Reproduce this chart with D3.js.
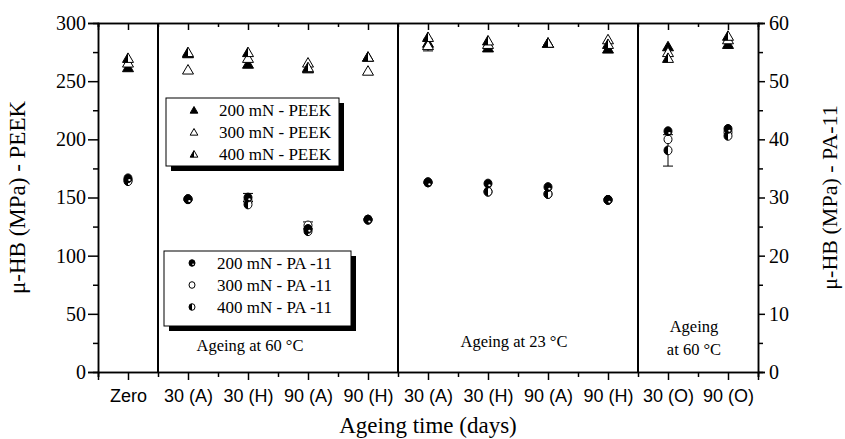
<!DOCTYPE html>
<html>
<head>
<meta charset="utf-8">
<script src="https://cdn.jsdelivr.net/npm/d3@7"></script>
<style>
  body { margin: 0; background: #fff; }
</style>
</head>
<body>
<div id="chart"></div>
<script>
// categories along x (ageing time)
const categories = ['Zero', '30 (A)', '30 (H)', '90 (A)', '90 (H)', '30 (A)', '30 (H)', '90 (A)', '90 (H)', '30 (O)', '90 (O)'];

// PEEK hardness (MPa), left axis
const peek200 = [262, 274, 265, 261, 271, 283, 279, 283, 278, 280, 282];
const peek300 = [266, 260, 270, 266, 259, 281, 282, 283, 286, 275, 286];
const peek400 = [270, 275, 275, 262, 271, 288, 285, 283, 282, 270, 289];
const peekErr300 = [0, 0, 0, 0, 0, 5, 0, 0, 0, 0, 0];

// PA-11 hardness (MPa), right axis
const pa200 = [33.3, 29.7, 30.0, 24.6, 26.2, 32.6, 32.4, 31.8, 29.6, 41.4, 41.8];
const pa300 = [33.0, 29.7, 29.4, 25.2, 26.2, 32.6, 31.0, 30.6, 29.6, 40.0, 41.2];
const pa400 = [32.8, 29.7, 28.8, 24.2, 26.2, 32.6, 31.0, 30.6, 29.6, 38.1, 40.6];
const paErr200 = [0, 0, 0.7, 0, 0, 0, 0, 0, 0, 0, 0];
const paErr300 = [0, 0, 0, 0.6, 0, 0, 0, 0, 0, 0, 0];
const paErr400 = [0, 0, 0, 0, 0, 0, 0, 0, 0, 2.7, 0];

const leftTicks = [0, 50, 100, 150, 200, 250, 300];
const rightTicks = [0, 10, 20, 30, 40, 50, 60];
const dividers = [0.5, 4.5, 8.5];

const width = 845, height = 439;
const margin = { top: 23, right: 87, bottom: 67, left: 98 };

const serif = '"Liberation Serif", "Times New Roman", serif';
const sans = '"Liberation Sans", Arial, sans-serif';

const x = d3.scaleLinear()
  .domain([-0.5, categories.length - 0.5])
  .range([margin.left, width - margin.right]);

const yL = d3.scaleLinear().domain([0, 300]).range([height - margin.bottom, margin.top]);
const yR = d3.scaleLinear().domain([0, 60]).range([height - margin.bottom, margin.top]);

const svg = d3.select('#chart').append('svg')
  .attr('width', width)
  .attr('height', height)
  .style('display', 'block');

const idx = d3.range(categories.length);
const half = d3.range(categories.length + 1).map(i => i - 0.5);

function styleAxis(g, size) {
  g.selectAll('path, line').attr('stroke', '#000').attr('stroke-width', 1.5);
  g.selectAll('text').attr('fill', '#000').style('font-family', serif).style('font-size', size);
}

// minor ticks first, so the major ones sit on top
svg.append('g')
  .attr('transform', `translate(${margin.left},0)`)
  .call(d3.axisLeft(yL).tickValues(d3.range(25, 300, 50)).tickSize(5).tickFormat(''))
  .call(g => styleAxis(g, '20px'));

svg.append('g')
  .attr('transform', `translate(${margin.left},0)`)
  .call(d3.axisLeft(yL).tickValues(leftTicks).tickSize(10).tickPadding(2))
  .call(g => styleAxis(g, '20px'));

svg.append('g')
  .attr('transform', `translate(${width - margin.right},0)`)
  .call(d3.axisRight(yR).tickValues(d3.range(5, 60, 10)).tickSize(5).tickFormat(''))
  .call(g => styleAxis(g, '20px'));

svg.append('g')
  .attr('transform', `translate(${width - margin.right},0)`)
  .call(d3.axisRight(yR).tickValues(rightTicks).tickSize(7).tickPadding(4))
  .call(g => styleAxis(g, '20px'));

// top axis, ticks pointing inwards
svg.append('g')
  .attr('transform', `translate(0,${margin.top})`)
  .call(d3.axisTop(x).tickValues(half).tickSize(-4).tickFormat(''))
  .call(g => styleAxis(g, '18px'));

svg.append('g')
  .attr('transform', `translate(0,${margin.top})`)
  .call(d3.axisTop(x).tickValues(idx).tickSize(-7).tickFormat(''))
  .call(g => styleAxis(g, '18px'));

svg.append('g')
  .attr('transform', `translate(0,${height - margin.bottom})`)
  .call(d3.axisBottom(x).tickValues(half).tickSize(5).tickFormat(''))
  .call(g => styleAxis(g, '18px'));

const xAxis = svg.append('g')
  .attr('transform', `translate(0,${height - margin.bottom})`)
  .call(d3.axisBottom(x).tickValues(idx).tickSize(8).tickPadding(9).tickFormat(i => categories[i]))
  .call(g => styleAxis(g, '18px'));
xAxis.selectAll('text').style('font-family', sans);

// section dividers
svg.append('g').selectAll('line')
  .data(dividers)
  .enter().append('line')
  .attr('x1', d => x(d)).attr('x2', d => x(d))
  .attr('y1', margin.top).attr('y2', height - margin.bottom)
  .attr('stroke', '#000')
  .attr('stroke-width', 2);

// marker shapes
const tri = 'M0,-5L5.5,4.5L-5.5,4.5Z';
const triLeft = 'M0,-5L0,4.5L-5.5,4.5Z';

function triangle(g, kind, s) {
  g.append('path').attr('d', tri).attr('transform', `scale(${s})`)
    .attr('fill', kind === 'full' ? '#000' : '#fff')
    .attr('stroke', '#000').attr('stroke-width', 1 / s);
  if (kind === 'half') {
    g.append('path').attr('d', triLeft).attr('transform', `scale(${s})`).attr('fill', '#000');
  }
}

function circle(g, kind, r) {
  g.append('ellipse').attr('rx', r).attr('ry', r * 1.1)
    .attr('fill', kind === 'full' ? '#000' : '#fff')
    .attr('stroke', '#000').attr('stroke-width', 1);
  if (kind === 'half') {
    g.append('path')
      .attr('d', `M0,${-r * 1.1}A${r},${r * 1.1} 0 0 0 0,${r * 1.1}Z`)
      .attr('fill', '#000');
  }
  if (kind === 'full') {
    g.append('ellipse').attr('cx', r * 0.35).attr('cy', r * 0.45)
      .attr('rx', r * 0.3).attr('ry', r * 0.25).attr('fill', '#fff');
  }
}

function errBars(values, errs, y) {
  const d = idx.filter(i => errs[i] > 0);
  const g = svg.append('g').attr('stroke', '#000').attr('stroke-width', 1);
  d.forEach(i => {
    const cx = x(i);
    g.append('line').attr('x1', cx).attr('x2', cx)
      .attr('y1', y(values[i] - errs[i])).attr('y2', y(values[i] + errs[i]));
    [values[i] - errs[i], values[i] + errs[i]].forEach(v => {
      g.append('line').attr('x1', cx - 5).attr('x2', cx + 5)
        .attr('y1', y(v)).attr('y2', y(v));
    });
  });
}

errBars(peek300, peekErr300, yL);
errBars(pa200, paErr200, yR);
errBars(pa300, paErr300, yR);
errBars(pa400, paErr400, yR);

const peekSeries = [
  { values: peek200, kind: 'full' },
  { values: peek300, kind: 'open' },
  { values: peek400, kind: 'half' }
];

const paSeries = [
  { values: pa300, kind: 'open' },
  { values: pa400, kind: 'half' },
  { values: pa200, kind: 'full' }
];

peekSeries.forEach(s => {
  svg.append('g').selectAll('g')
    .data(idx)
    .enter().append('g')
    .attr('transform', i => `translate(${x(i)},${yL(s.values[i])})`)
    .each(function () { triangle(d3.select(this), s.kind, 1); });
});

paSeries.forEach(s => {
  svg.append('g').selectAll('g')
    .data(idx)
    .enter().append('g')
    .attr('transform', i => `translate(${x(i)},${yR(s.values[i])})`)
    .each(function () { circle(d3.select(this), s.kind, 4); });
});

// legends with drop shadow
function legend(x0, y0, w, h, rows, draw) {
  const g = svg.append('g');
  g.append('rect').attr('x', x0 + 5).attr('y', y0 + 5).attr('width', w).attr('height', h).attr('fill', '#000');
  g.append('rect').attr('x', x0).attr('y', y0).attr('width', w).attr('height', h)
    .attr('fill', '#fff').attr('stroke', '#000').attr('stroke-width', 1);
  rows.forEach((r, i) => {
    const cy = y0 + 12 + i * 22;
    const m = g.append('g').attr('transform', `translate(${x0 + 28},${cy})`);
    draw(m, r.kind);
    g.append('text')
      .attr('x', x0 + 53).attr('y', cy).attr('dy', '0.35em')
      .style('font-family', serif).style('font-size', '17px')
      .text(r.label);
  });
}

legend(166, 98, 173, 68, [
  { kind: 'full', label: '200 mN - PEEK' },
  { kind: 'open', label: '300 mN - PEEK' },
  { kind: 'half', label: '400 mN - PEEK' }
], (m, k) => triangle(m, k, 0.7));

legend(164, 251, 187, 75, [
  { kind: 'full', label: '200 mN - PA -11' },
  { kind: 'open', label: '300 mN - PA -11' },
  { kind: 'half', label: '400 mN - PA -11' }
], (m, k) => circle(m, k, 3));

// section labels
const notes = [
  { x: 250, y: 351, t: 'Ageing at 60 °C' },
  { x: 514, y: 347, t: 'Ageing at 23 °C' },
  { x: 694, y: 332, t: 'Ageing' },
  { x: 694, y: 355, t: 'at 60 °C' }
];
svg.append('g').selectAll('text')
  .data(notes)
  .enter().append('text')
  .attr('x', d => d.x).attr('y', d => d.y)
  .attr('text-anchor', 'middle')
  .style('font-family', serif).style('font-size', '16.5px')
  .text(d => d.t);

// axis titles
svg.append('text')
  .attr('x', 428).attr('y', 433)
  .attr('text-anchor', 'middle')
  .style('font-family', serif).style('font-size', '23px')
  .text('Ageing time (days)');

svg.append('text')
  .attr('transform', `translate(25,${(yL(0) + yL(300)) / 2}) rotate(-90)`)
  .attr('text-anchor', 'middle')
  .style('font-family', serif).style('font-size', '23px')
  .text('μ-HB (MPa) - PEEK');

svg.append('text')
  .attr('transform', `translate(837,${(yR(0) + yR(60)) / 2}) rotate(-90)`)
  .attr('text-anchor', 'middle')
  .style('font-family', serif).style('font-size', '22px')
  .text('μ-HB (MPa) - PA-11');
</script>
</body>
</html>
